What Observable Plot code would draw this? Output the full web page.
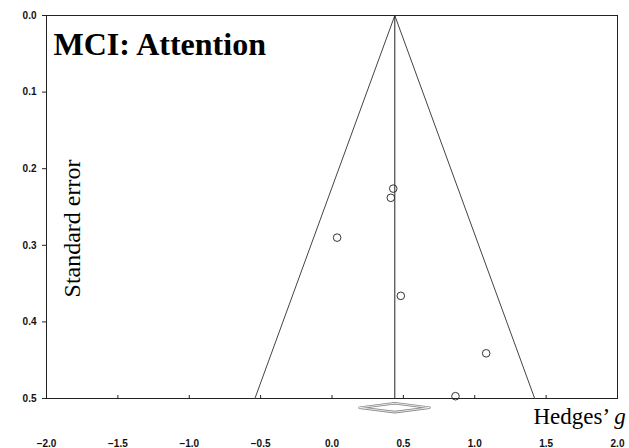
<!DOCTYPE html>
<html>
<head>
<meta charset="utf-8">
<script src="https://cdn.jsdelivr.net/npm/d3@7"></script>
<script src="https://cdn.jsdelivr.net/npm/@observablehq/plot@0.6"></script>
<style>
  html, body { margin: 0; padding: 0; background: #fff; }
  #chart { width: 629px; height: 448px; }
</style>
</head>
<body>
<div id="chart"></div>
<script>
// Study effect sizes (Hedges' g) and standard errors
const studyG  = [0.429, 0.412, 0.036, 0.482, 1.080, 0.865];
const studySE = [0.226, 0.238, 0.290, 0.366, 0.441, 0.497];

// Pooled estimate and its confidence interval
const pooledG = 0.44;
const ciLow = 0.193;
const ciHigh = 0.683;

// Pseudo-confidence funnel
const funnelG  = [-0.54, 0.44, 1.42];
const funnelSE = [0.5, 0.0, 0.5];

// Diamond vertical placement (standard-error units, below the axis)
const diamondSE = 0.512;
const diamondHalf = 0.0058;

// Ticks
const xTicks = [-2.0, -1.5, -1.0, -0.5, 0.0, 0.5, 1.0, 1.5, 2.0];
const yTicks = [0.0, 0.1, 0.2, 0.3, 0.4, 0.5];

const title = "MCI: Attention";
const yLabel = "Standard error";
const xLabel = "Hedges\u2019 g";

const studies = studyG.map((g, i) => ({g, se: studySE[i]}));
const funnel = funnelG.map((g, i) => ({g, se: funnelSE[i]}));
const diamond = [
  {g: ciLow, se: diamondSE},
  {g: pooledG, se: diamondSE - diamondHalf},
  {g: ciHigh, se: diamondSE},
  {g: pooledG, se: diamondSE + diamondHalf},
  {g: ciLow, se: diamondSE}
];

const serif = "'Liberation Serif', 'Times New Roman', Times, serif";
const sans = "'Liberation Sans', Arial, Helvetica, sans-serif";

const chart = Plot.plot({
  width: 629,
  height: 448,
  marginLeft: 46,
  marginRight: 12,
  marginTop: 15,
  marginBottom: 50,
  style: {fontFamily: sans, fontSize: "10px", fontWeight: "bold", background: "#fff", overflow: "visible"},
  x: {domain: [-2, 2]},
  y: {domain: [0, 0.5], reverse: true},
  marks: [
    Plot.frame({stroke: "#222", strokeWidth: 1}),
    Plot.axisY({ticks: yTicks, tickFormat: d3.format(".1f"), tickSize: 4, tickPadding: 6, stroke: "#222", fill: "#111", fontSize: 10, fontWeight: "bold", label: null}),
    Plot.axisX({ticks: xTicks, tickFormat: d3.format(".1f"), tickSize: 0, tickPadding: 41, fill: "#111", fontSize: 10, fontWeight: "bold", label: null}),
    Plot.ruleX(xTicks, {x: d => d, y1: 0.5, y2: 0.5, insetTop: 1, insetBottom: 3, stroke: "#222"}),
    Plot.line(funnel, {x: "g", y: "se", stroke: "#444", strokeWidth: 1}),
    Plot.ruleX([pooledG], {x: d => d, y1: 0, y2: 0.5, stroke: "#222", strokeWidth: 1}),
    Plot.dot(studies, {x: "g", y: "se", r: 3.8, stroke: "#333", strokeWidth: 1, fill: "none"}),
    Plot.line(diamond, {x: "g", y: "se", stroke: "#888", strokeWidth: 2.6, fill: "white"}),
    Plot.line(diamond, {x: "g", y: "se", stroke: "white", strokeWidth: 0.8}),
    Plot.text([title], {frameAnchor: "top-left", textAnchor: "start", lineAnchor: "top", dx: 7, dy: 17, fontSize: 32, fontWeight: "bold", fontFamily: serif, fill: "#000"}),
    Plot.text([yLabel], {frameAnchor: "left", rotate: -90, textAnchor: "middle", lineAnchor: "middle", dx: 26, dy: 21.5, fontSize: 24, fontWeight: "normal", fontFamily: serif, fill: "#000"}),
    Plot.text([xLabel], {frameAnchor: "bottom-right", textAnchor: "start", lineAnchor: "middle", dx: -84, dy: 18.6, fontSize: 23, fontWeight: "normal", fontFamily: serif, fill: "#000"})
  ]
});

// Italicise the "g" of the x label while keeping it as real text
d3.select(chart).selectAll("text").filter(function() { return this.textContent === xLabel; }).each(function() {
  const t = d3.select(this);
  t.text(null);
  t.append("tspan").text("Hedges\u2019 ");
  t.append("tspan").attr("font-style", "italic").text("g");
});

document.getElementById("chart").appendChild(chart);
</script>
</body>
</html>
